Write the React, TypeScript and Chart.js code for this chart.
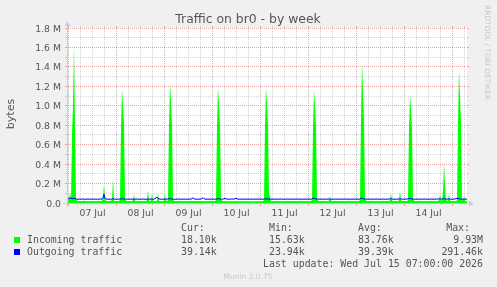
import React, { useEffect, useRef } from "react";
import { Chart, registerables } from "chart.js";

Chart.register(...registerables);

const W = 497;
const H = 287;

// time axis: hours relative to 07 Jul 00:00, one RRD sample every 30 minutes
const startHour = -0.75;
const stepHours = 0.5;
const endHour = 199.25;

const dayLabels = ["07 Jul", "08 Jul", "09 Jul", "10 Jul", "11 Jul", "12 Jul", "13 Jul", "14 Jul"];
const yMax = 1800000;
const yLabelValues = [0, 200000, 400000, 600000, 800000, 1000000, 1200000, 1400000, 1600000, 1800000];
const yLabels = ["0.0", "0.2 M", "0.4 M", "0.6 M", "0.8 M", "1.0 M", "1.2 M", "1.4 M", "1.6 M", "1.8 M"];

// values in kilobytes
const incomingK = [
  22, 24, 30, 110, 30, 700, 1000, 1620, 800, 40, 24, 21, 20, 22, 19, 21, 20, 22, 20, 19,
  20, 21, 19, 20, 22, 20, 18, 21, 20, 19, 21, 20, 22, 19, 20, 24, 60, 190, 45, 22,
  20, 19, 21, 20, 22, 30, 250, 26, 20, 19, 21, 20, 22, 28, 750, 1180, 1000, 820, 45, 22,
  20, 19, 21, 20, 18, 20, 25, 90, 24, 20, 19, 21, 20, 22, 19, 20, 21, 20, 19, 22,
  25, 130, 26, 20, 24, 100, 24, 20, 21, 19, 24, 100, 22, 20, 19, 21, 20, 24, 90, 22,
  20, 28, 800, 1230, 1050, 800, 40, 21, 20, 19, 21, 20, 22, 19, 20, 21, 20, 18, 20, 21,
  20, 19, 21, 20, 22, 19, 20, 21, 20, 19, 21, 20, 22, 19, 20, 21, 20, 18, 20, 21,
  20, 19, 21, 20, 22, 19, 20, 21, 20, 28, 780, 1190, 1020, 800, 40, 22, 20, 19, 21, 20,
  19, 18, 20, 19, 18, 20, 19, 18, 20, 19, 18, 17, 19, 18, 20, 19, 18, 19, 17, 18,
  18, 19, 17, 18, 19, 18, 17, 19, 18, 17, 18, 19, 18, 20, 19, 18, 20, 28, 780, 1190,
  1020, 800, 100, 60, 22, 20, 19, 21, 20, 22, 19, 20, 21, 20, 18, 20, 21, 20, 19, 21,
  20, 22, 19, 20, 21, 20, 18, 20, 21, 20, 19, 21, 20, 22, 19, 20, 21, 20, 18, 20,
  21, 20, 19, 21, 20, 28, 760, 1160, 1000, 780, 40, 22, 20, 19, 21, 20, 22, 19, 20, 21,
  20, 19, 24, 70, 24, 20, 19, 21, 20, 22, 19, 20, 21, 20, 18, 20, 21, 20, 19, 21,
  20, 22, 19, 20, 21, 20, 18, 20, 21, 20, 19, 21, 20, 28, 850, 1450, 1150, 850, 45, 22,
  20, 19, 21, 20, 22, 19, 20, 21, 20, 18, 20, 21, 20, 19, 21, 20, 22, 19, 20, 21,
  20, 19, 21, 26, 100, 25, 20, 19, 21, 20, 22, 19, 26, 120, 26, 20, 21, 20, 18, 20,
  21, 28, 760, 1110, 960, 760, 40, 22, 20, 19, 21, 20, 22, 19, 20, 21, 20, 18, 20, 21,
  20, 19, 21, 20, 22, 19, 20, 21, 20, 18, 20, 21, 25, 90, 25, 22, 120, 410, 180, 30,
  22, 25, 90, 24, 20, 19, 21, 20, 22, 19, 28, 820, 1370, 1100, 820, 40, 24, 70, 22, 18, 18,
];

const outgoingK = [
  40, 42, 45, 55, 48, 44, 46, 50, 45, 41, 38, 40, 39, 41, 38, 40, 42, 39, 40, 38,
  41, 39, 40, 42, 38, 40, 39, 41, 40, 38, 41, 39, 40, 42, 39, 41, 55, 90, 48, 41,
  39, 40, 38, 41, 39, 40, 44, 42, 39, 40, 38, 41, 40, 39, 42, 44, 43, 41, 40, 39,
  41, 38, 40, 39, 41, 40, 38, 41, 39, 40, 42, 39, 40, 38, 41, 39, 40, 41, 38, 40,
  39, 42, 40, 39, 41, 40, 38, 41, 45, 52, 60, 48, 42, 40, 39, 41, 38, 40, 39, 41,
  40, 42, 44, 45, 43, 41, 39, 40, 38, 41, 39, 40, 42, 39, 40, 38, 41, 39, 40, 41,
  38, 40, 39, 41, 40, 42, 55, 44, 40, 39, 41, 38, 40, 39, 42, 45, 55, 44, 40, 39,
  41, 38, 40, 39, 41, 40, 38, 41, 39, 40, 42, 44, 43, 41, 40, 39, 41, 42, 50, 42,
  40, 38, 41, 39, 40, 42, 39, 41, 44, 48, 42, 40, 38, 41, 39, 40, 38, 41, 39, 40,
  39, 41, 38, 40, 39, 41, 40, 38, 41, 39, 40, 42, 39, 40, 38, 41, 39, 40, 42, 44,
  43, 41, 40, 39, 41, 38, 40, 39, 41, 40, 38, 41, 39, 40, 42, 39, 40, 38, 41, 39,
  40, 41, 38, 40, 39, 41, 40, 38, 41, 39, 40, 42, 39, 40, 38, 41, 39, 40, 41, 38,
  40, 39, 41, 40, 38, 42, 48, 50, 45, 41, 40, 39, 41, 38, 40, 39, 41, 40, 38, 41,
  39, 40, 42, 39, 40, 38, 41, 39, 40, 41, 38, 40, 39, 41, 40, 38, 41, 39, 40, 42,
  39, 40, 38, 41, 39, 40, 41, 38, 40, 39, 41, 40, 38, 42, 46, 50, 45, 41, 40, 39,
  41, 38, 40, 39, 41, 40, 38, 41, 39, 40, 42, 39, 40, 38, 41, 39, 40, 41, 38, 40,
  39, 41, 40, 42, 44, 41, 39, 40, 38, 41, 39, 40, 42, 43, 41, 40, 38, 41, 39, 40,
  41, 42, 46, 48, 45, 41, 40, 39, 41, 38, 40, 39, 41, 40, 38, 41, 39, 40, 42, 39,
  40, 38, 41, 39, 40, 41, 38, 40, 39, 41, 40, 42, 41, 43, 41, 40, 42, 44, 42, 40,
  39, 41, 43, 40, 38, 41, 39, 40, 42, 44, 48, 46, 44, 42, 40, 41, 39, 40, 41, 39, 39,
];

const seriesNames = ["Incoming traffic", "Outgoing traffic"];
const seriesColors = ["#00FF00", "#0000FF"];
const curVals = ["18.10k", "39.14k"];
const minVals = ["15.63k", "23.94k"];
const avgVals = ["83.76k", "39.39k"];
const maxVals = ["9.93M", "291.46k"];
const lastUpdate = "Last update: Wed Jul 15 07:00:00 2026";
const titleText = "Traffic on br0 - by week";
const yAxisTitle = "bytes";
const sideMark = "RRDTOOL / TOBI OETIKER";
const footMark = "Munin 2.0.75";

const FONT = '"DejaVu Sans", sans-serif';
const MONO = '"DejaVu Sans Mono", monospace';
const TEXT = "#555555";
const MINOR = "rgba(143,143,143,0.38)";
const MAJOR = "rgba(222,79,79,0.5)";
const AXIS = "#C4CCF6";

const toPoints = (vals: number[]) =>
  vals.map((v, i) => ({ x: startHour + i * stepHours, y: v * 1000 }));

const muninPlugin = {
  id: "muninDecor",
  beforeDatasetsDraw(chart: any) {
    const { ctx, chartArea: a, scales } = chart;
    const xs = scales.x;
    const ys = scales.y;
    ctx.save();
    ctx.fillStyle = "#F0F0F0";
    ctx.fillRect(0, 0, W, H);
    ctx.fillStyle = "#FFFFFF";
    ctx.fillRect(a.left, a.top, a.right - a.left, a.bottom - a.top + 1);
    ctx.lineWidth = 1;
    // vertical grid (every 6 h, major every day)
    for (let h = 0; h <= endHour; h += 6) {
      const major = h % 24 === 0;
      const x = Math.floor(xs.getPixelForValue(h)) + 0.5;
      ctx.strokeStyle = major ? MAJOR : MINOR;
      ctx.setLineDash([1, 1]);
      ctx.beginPath();
      ctx.moveTo(x, a.top + 1);
      ctx.lineTo(x, a.bottom - 1);
      ctx.stroke();
      ctx.setLineDash([]);
      ctx.beginPath();
      ctx.moveTo(x, a.top - 2);
      ctx.lineTo(x, a.top);
      ctx.moveTo(x, a.bottom);
      ctx.lineTo(x, a.bottom + (major ? 3 : 2));
      ctx.stroke();
    }
    // horizontal grid (every 0.1 M, major every 0.2 M)
    for (let k = 1; k <= 18; k++) {
      const v = k * 100000;
      const major = k % 2 === 0;
      const y = Math.floor(ys.getPixelForValue(v)) + 0.5;
      ctx.strokeStyle = major ? MAJOR : MINOR;
      ctx.setLineDash([1, 1]);
      ctx.beginPath();
      ctx.moveTo(a.left + 1, y);
      ctx.lineTo(a.right - 1, y);
      ctx.stroke();
      ctx.setLineDash([]);
      ctx.beginPath();
      ctx.moveTo(a.left - 2, y);
      ctx.lineTo(a.left, y);
      ctx.moveTo(a.right, y);
      ctx.lineTo(a.right + 2, y);
      ctx.stroke();
    }
    ctx.restore();
  },
  afterDatasetsDraw(chart: any) {
    const { ctx, chartArea: a } = chart;
    ctx.save();
    ctx.strokeStyle = AXIS;
    ctx.fillStyle = AXIS;
    ctx.lineWidth = 1;
    const x0 = a.left + 0.5;
    const y0 = a.bottom + 0.5;
    ctx.beginPath();
    ctx.moveTo(a.left - 4, y0);
    ctx.lineTo(a.right + 4, y0);
    ctx.moveTo(x0, a.bottom + 4);
    ctx.lineTo(x0, a.top - 4);
    ctx.stroke();
    ctx.beginPath();
    ctx.moveTo(a.right + 2, y0 - 3);
    ctx.lineTo(a.right + 2, y0 + 3);
    ctx.lineTo(a.right + 7, y0);
    ctx.closePath();
    ctx.fill();
    ctx.beginPath();
    ctx.moveTo(x0 - 3, a.top - 2);
    ctx.lineTo(x0 + 3, a.top - 2);
    ctx.lineTo(x0, a.top - 7);
    ctx.closePath();
    ctx.fill();
    ctx.restore();
  },
  afterDraw(chart: any) {
    const { ctx, chartArea: a, scales } = chart;
    const xs = scales.x;
    const ys = scales.y;
    ctx.save();
    ctx.fillStyle = TEXT;
    // title
    ctx.font = `12.4px ${FONT}`;
    ctx.textAlign = "center";
    ctx.textBaseline = "alphabetic";
    ctx.fillText(titleText, 248, 22.5);
    // y tick labels
    ctx.font = `9.3px ${FONT}`;
    ctx.textAlign = "right";
    yLabelValues.forEach((v, i) => {
      const y = Math.floor(ys.getPixelForValue(v)) + 0.5;
      ctx.fillText(yLabels[i], a.left - 6, y + 3.4);
    });
    // x tick labels (noon of each day)
    ctx.textAlign = "center";
    dayLabels.forEach((lab, i) => {
      const x = xs.getPixelForValue(12 + i * 24);
      ctx.fillText(lab, x, 216);
    });
    // y axis title
    ctx.save();
    ctx.font = `11px ${FONT}`;
    ctx.translate(14, 114);
    ctx.rotate(-Math.PI / 2);
    ctx.textAlign = "center";
    ctx.fillText(yAxisTitle, 0, 0);
    ctx.restore();
    // side watermark
    ctx.save();
    ctx.fillStyle = "rgba(102,102,102,0.3)";
    ctx.font = `7.4px ${FONT}`;
    ctx.translate(485, 5);
    ctx.rotate(Math.PI / 2);
    ctx.textAlign = "left";
    ctx.fillText(sideMark, 0, 0);
    ctx.restore();
    // legend
    ctx.font = `9.9px ${MONO}`;
    ctx.textAlign = "left";
    ctx.fillText("Cur:", 181, 231);
    ctx.fillText("Min:", 269, 231);
    ctx.fillText("Avg:", 358, 231);
    ctx.textAlign = "right";
    ctx.fillText("Max:", 470, 231);
    seriesNames.forEach((name, i) => {
      const base = 243 + i * 12;
      ctx.fillStyle = seriesColors[i];
      ctx.fillRect(14, base - 6, 6, 6);
      ctx.fillStyle = TEXT;
      ctx.textAlign = "left";
      ctx.fillText(name, 27, base);
      ctx.fillText(curVals[i], 181, base);
      ctx.fillText(minVals[i], 269, base);
      ctx.fillText(avgVals[i], 358, base);
      ctx.textAlign = "right";
      ctx.fillText(maxVals[i], 483, base);
    });
    ctx.textAlign = "right";
    ctx.fillText(lastUpdate, 483, 267);
    ctx.fillStyle = "rgba(102,102,102,0.3)";
    ctx.font = `7.5px ${FONT}`;
    ctx.textAlign = "center";
    ctx.fillText(footMark, 248, 278.5);
    ctx.restore();
  },
};

export default function App() {
  const ref = useRef<HTMLCanvasElement | null>(null);
  useEffect(() => {
    document.body.style.margin = "0";
    document.body.style.background = "#F0F0F0";
    if (!ref.current) return;
    const chart = new Chart(ref.current, {
      type: "line",
      data: {
        datasets: [
          {
            label: seriesNames[1],
            data: toPoints(outgoingK),
            borderColor: seriesColors[1],
            borderWidth: 1,
            pointRadius: 0,
            fill: false,
            tension: 0,
            order: 0,
          },
          {
            label: seriesNames[0],
            data: toPoints(incomingK),
            borderColor: "rgba(0,0,0,0)",
            borderWidth: 0,
            backgroundColor: seriesColors[0],
            pointRadius: 0,
            fill: "origin",
            tension: 0,
            order: 1,
          },
        ],
      },
      options: {
        animation: false,
        responsive: false,
        devicePixelRatio: 1,
        events: [],
        layout: { padding: { left: 67, top: 28, right: 30, bottom: 84 } },
        scales: {
          x: { type: "linear", min: startHour, max: endHour, display: false },
          y: { type: "linear", min: 0, max: yMax, display: false },
        },
        plugins: {
          legend: { display: false },
          tooltip: { enabled: false },
          title: { display: false },
        },
      },
      plugins: [muninPlugin],
    });
    return () => chart.destroy();
  }, []);
  return <canvas ref={ref} width={W} height={H} style={{ display: "block" }} />;
}
